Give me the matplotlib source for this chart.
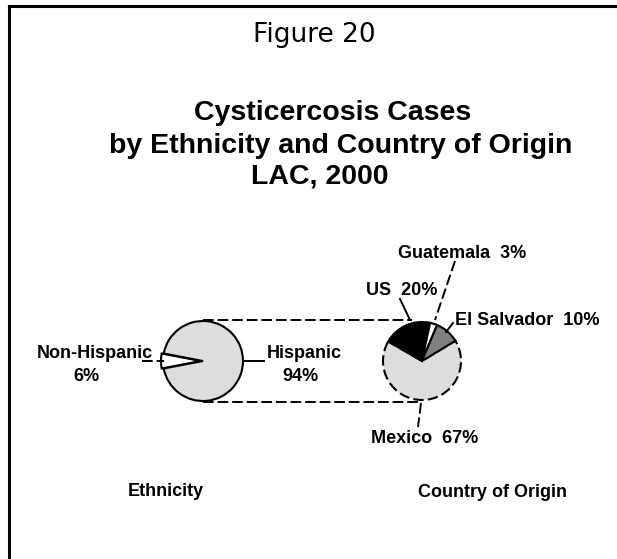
import matplotlib.pyplot as plt
from matplotlib.lines import Line2D

# data
ethnicity_labels = ["Non-Hispanic", "Hispanic"]
ethnicity_values = [6, 94]
country_labels = ["US", "Guatemala", "El Salvador", "Mexico"]
country_values = [20, 3, 10, 67]

W, H = 617, 559
LABEL_FONT = dict(family="Liberation Sans", weight="bold", size=13)


def py(y):
    # image pixel row -> data y (axis points up)
    return H - y


def line(ax, x0, y0, x1, y1, dashed=False):
    ls = (0, (5.5, 2)) if dashed else "-"
    ax.add_line(Line2D([x0, x1], [py(y0), py(y1)], color="black", lw=1.4, linestyle=ls))


def label(ax, x, y, text, **kw):
    opts = dict(LABEL_FONT)
    opts.update(kw)
    ax.text(x, py(y), text, ha="center", va="baseline", **opts)


fig = plt.figure(figsize=(W / 100, H / 100), dpi=100)
ax = fig.add_axes([0, 0, 1, 1])

# frame (only left and top edges show in the picture)
ax.add_line(Line2D([9, 9], [py(6), -10], color="black", lw=2.2))
ax.add_line(Line2D([9, W + 10], [py(6), py(6)], color="black", lw=2.2))

# titles
ax.text(314, py(42), "Figure 20", ha="center", va="baseline",
        family="DejaVu Sans", size=19)
title_font = dict(family="Liberation Sans", weight="bold", size=20.5)
ax.text(333, py(120), "Cysticercosis Cases", ha="center", va="baseline", **title_font)
ax.text(341, py(153), "by Ethnicity and Country of Origin", ha="center", va="baseline", **title_font)
ax.text(320, py(184), "LAC, 2000", ha="center", va="baseline", **title_font)

# ethnicity pie
eth_wedges, _ = ax.pie(
    ethnicity_values,
    colors=["white", "#dddddd"],
    startangle=180 - 360 * ethnicity_values[0] / 100 / 2,
    radius=40,
    center=(203, py(361)),
    explode=[2, 0],
    wedgeprops=dict(edgecolor="black", linewidth=1.5),
    frame=True,
)

# country pie
cty_wedges, _ = ax.pie(
    country_values,
    colors=["black", "white", "#808080", "#dddddd"],
    startangle=150,
    counterclock=False,
    radius=39,
    center=(422, py(361)),
    wedgeprops=dict(edgecolor="black", linewidth=1.5),
    frame=True,
)
# Mexico slice has a dashed outline; keep it under the solid slices
cty_wedges[3].set_linestyle((0, (5, 2)))
cty_wedges[3].set_zorder(0.9)

# dashed connectors between the pies
line(ax, 203, 320, 412, 320, dashed=True)
line(ax, 203, 402, 418, 402, dashed=True)

# ethnicity labels
label(ax, 95, 358, ethnicity_labels[0])
label(ax, 86, 381, f"{ethnicity_values[0]}%")
line(ax, 142, 361, 164, 361, dashed=True)
label(ax, 304, 358, ethnicity_labels[1])
label(ax, 300, 381, f"{ethnicity_values[1]}%")
line(ax, 243, 361, 264, 361)

# country labels
label(ax, 402, 295, f"{country_labels[0]}  {country_values[0]}%")
line(ax, 400, 299, 410, 320)
label(ax, 462, 258, f"{country_labels[1]}  {country_values[1]}%")
line(ax, 455, 261, 435, 320, dashed=True)
label(ax, 527, 325, f"{country_labels[2]}  {country_values[2]}%")
line(ax, 453, 323, 446, 332)
label(ax, 425, 443, f"{country_labels[3]}  {country_values[3]}%")
line(ax, 421, 403, 418, 427, dashed=True)

# bottom captions
label(ax, 166, 496, "Ethnicity")
label(ax, 493, 497, "Country of Origin")

ax.set_xlim(0, W)
ax.set_ylim(0, H)
ax.set_aspect("auto")
ax.set_axis_off()

fig.savefig("out.png", dpi=100, facecolor="white")
